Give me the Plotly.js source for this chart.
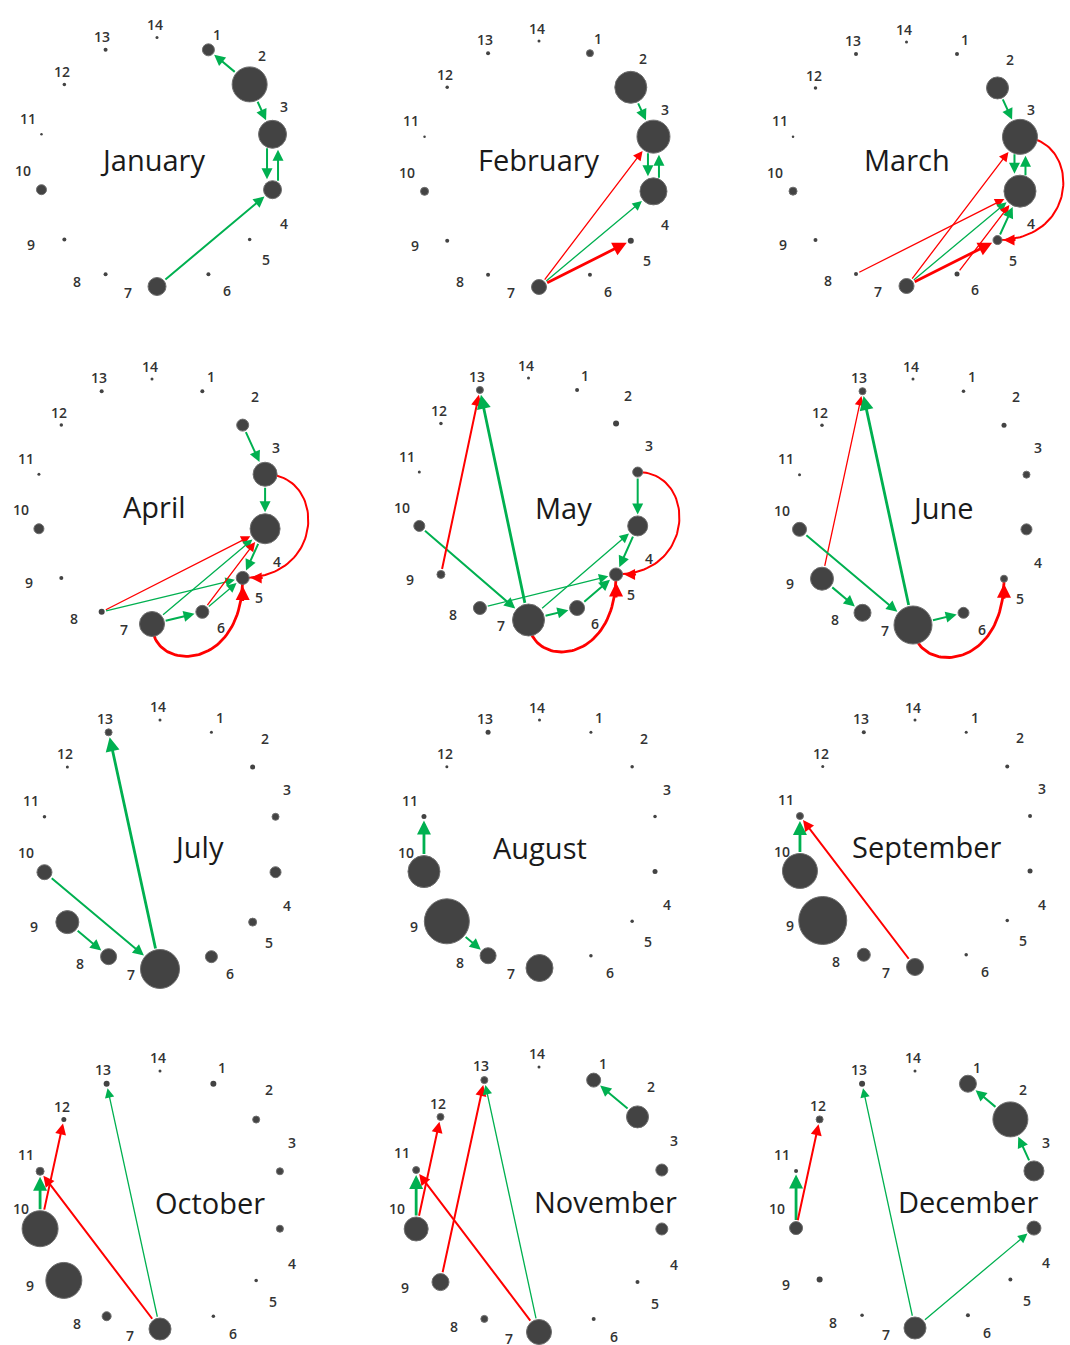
<!DOCTYPE html>
<html>
<head>
<meta charset="utf-8">
<script src="https://cdn.plot.ly/plotly-3.0.1.min.js"></script>
<style>
  html, body { margin: 0; padding: 0; background: #ffffff; }
  #chart { width: 1070px; height: 1345px; }
</style>
</head>
<body>
<div id="chart"></div>
<script>
// ---------- data ----------
const months = ['January', 'February', 'March', 'April', 'May', 'June',
                'July', 'August', 'September', 'October', 'November', 'December'];
const nodeIds = [1, 2, 3, 4, 5, 6, 7, 8, 9, 10, 11, 12, 13, 14];

// node weight per month (nodes 1..14), drawn as marker diameter
const janNodes = [12, 35, 28, 18, 3.5, 4, 18, 4, 4, 10, 2.5, 3.5, 4, 3];
const febNodes = [7, 32, 33, 27, 6, 4, 15, 4, 4, 8, 2.5, 3.5, 4, 3];
const marNodes = [4, 22, 35, 32, 9, 5, 15, 4, 4, 8, 2.5, 3.5, 4, 3];
const aprNodes = [4, 12, 24, 30, 13, 13, 25, 6, 4, 10, 3, 3.5, 4, 3];
const mayNodes = [4, 6, 10, 20, 13, 15, 32, 13, 8, 11, 3, 3.5, 7, 3];
const junNodes = [3.5, 5, 7, 11, 7, 11, 38, 17, 23, 14, 3, 3.5, 7, 3];
const julNodes = [3, 5, 7, 11, 8, 12, 39, 16, 23, 15, 3.5, 3, 7, 3];
const augNodes = [3, 3.5, 3.5, 5, 3.5, 3.5, 27, 16, 45, 32, 5, 3, 5, 3];
const sepNodes = [3, 4, 4, 5, 3.5, 3.5, 17, 13, 48, 35, 7, 3, 4, 3];
const octNodes = [6, 7, 7, 7, 3.5, 3.5, 22, 9, 36, 36, 8, 5, 6, 3];
const novNodes = [14, 22, 12, 12, 4, 4, 25, 7, 17, 24, 7, 7, 7, 3];
const decNodes = [17, 35, 20, 14, 4, 4, 22, 3.5, 6, 13, 4, 7, 6, 3];

// transitions per month: [from, to, sign (+1 gain / -1 loss), weight 1..3]
const janMoves = [[2, 1, 1, 2], [2, 3, 1, 2], [3, 4, 1, 2], [4, 3, 1, 2], [7, 4, 1, 2]];
const febMoves = [[2, 3, 1, 2], [3, 4, 1, 2], [4, 3, 1, 2], [7, 3, -1, 1], [7, 4, 1, 1], [7, 5, -1, 3]];
const marMoves = [[2, 3, 1, 2], [3, 4, 1, 2], [4, 3, 1, 2], [7, 3, -1, 1], [8, 4, -1, 1], [7, 4, 1, 1],
                  [6, 4, -1, 1], [7, 5, -1, 3], [5, 4, 1, 2], [3, 5, -1, 2]];
const aprMoves = [[2, 3, 1, 2], [3, 4, 1, 2], [3, 5, -1, 2], [8, 4, -1, 1], [8, 5, 1, 1], [7, 4, 1, 1],
                  [7, 6, 1, 2], [6, 4, -1, 1], [6, 5, 1, 1], [4, 5, 1, 2], [7, 5, -1, 3]];
const mayMoves = [[10, 7, 1, 2], [9, 13, -1, 2], [7, 13, 1, 3], [8, 5, 1, 1], [7, 4, 1, 1], [7, 6, 1, 2],
                  [6, 5, 1, 2], [3, 4, 1, 2], [4, 5, 1, 2], [3, 5, -1, 2], [7, 5, -1, 3]];
const junMoves = [[9, 13, -1, 1], [7, 13, 1, 3], [10, 7, 1, 2], [9, 8, 1, 2], [7, 6, 1, 2], [7, 5, -1, 3]];
const julMoves = [[7, 13, 1, 3], [10, 7, 1, 2], [9, 8, 1, 2]];
const augMoves = [[10, 11, 1, 3], [9, 8, 1, 2]];
const sepMoves = [[10, 11, 1, 3], [7, 11, -1, 2]];
const octMoves = [[10, 11, 1, 3], [10, 12, -1, 2], [7, 11, -1, 2], [7, 13, 1, 1]];
const novMoves = [[2, 1, 1, 2], [10, 11, 1, 3], [10, 12, -1, 2], [9, 13, -1, 2], [7, 11, -1, 2], [7, 13, 1, 1]];
const decMoves = [[2, 1, 1, 2], [3, 2, 1, 2], [10, 11, 1, 3], [10, 12, -1, 2], [7, 13, 1, 1], [7, 4, 1, 1]];

const monthNodes = [janNodes, febNodes, marNodes, aprNodes, mayNodes, junNodes,
                    julNodes, augNodes, sepNodes, octNodes, novNodes, decNodes];
const monthMoves = [janMoves, febMoves, marMoves, aprMoves, mayMoves, junMoves,
                    julMoves, augMoves, sepMoves, octMoves, novMoves, decMoves];

// ---------- layout settings ----------
const PAGE_W = 1070, PAGE_H = 1345;
// panel centre (px) and ring radii (px) for each month
const PANELS = [
  [157, 162, 118.5, 124.5], [539, 164, 117.4, 123], [906.5, 164, 116.4, 122],
  [152, 501.5, 116, 122.5], [528.5, 499, 112, 121], [913, 502, 116.4, 123],
  [160, 844.5, 118.5, 124.5], [539.5, 844, 118.5, 124], [915, 843.5, 118, 123.5],
  [160, 1200, 123, 129], [539, 1199.5, 126, 132.5], [915, 1199.5, 122, 128.5]
];
// month name offset from panel centre (px, screen)
const NAME_SHIFT = [[-5, -3], [0, -5], [0, -5], [2, 5], [35, 8], [29, 5],
                    [38, 2], [0, 3], [11, 3], [50, 2], [66, 2], [53, 2]];
// node label placement: [angle nudge (deg), radius] for nodes 1..14
const LABEL_POLAR = [[-0.6, 1.142], [5.4, 1.231], [9.6, 1.16], [-11.7, 1.18], [-2, 1.21],
                     [4.1, 1.19], [-13, 1.075], [-9.3, 1.17], [-6.6, 1.25], [-9.4, 1.13],
                     [-5.1, 1.145], [-3.8, 1.08], [-1.2, 1.11], [1, 1.105]];
// transitions drawn as bent arcs: month -> [from, to, axis pushed, control value]
const BENDS = {
  March: [[3, 5, 'x', 1.5]],
  April: [[3, 5, 'x', 1.5], [7, 5, 'y', -1.4]],
  May:   [[3, 5, 'x', 1.5], [7, 5, 'y', -1.4]],
  June:  [[7, 5, 'y', -1.4]]
};
const GAIN = '#00b050', LOSS = '#ff0000';
const LINE_W = {1: 1.3, 2: 2, 3: 2.8};
const HEAD_S = {1: 1.45, 2: 1.1, 3: 1.0};
const PAIR_GAP = 5.5;

function nodeAngle(id) { return (90 - id * 360 / 14) * Math.PI / 180; }
function nodePos(id) { const a = nodeAngle(id); return [Math.cos(a), Math.sin(a)]; }

const data = [];
const annotations = [];
const layout = {
  width: PAGE_W, height: PAGE_H, autosize: false,
  margin: {l: 0, r: 0, t: 0, b: 0, pad: 0},
  paper_bgcolor: '#ffffff', plot_bgcolor: 'rgba(0,0,0,0)',
  showlegend: false, hovermode: false,
  annotations: annotations
};

months.forEach((month, i) => {
  const k = i + 1;
  const sfx = k === 1 ? '' : String(k);
  const xr = 'x' + sfx, yr = 'y' + sfx;
  const [cx, cy, rx, ry] = PANELS[i];
  const sizes = monthNodes[i];
  const moves = monthMoves[i];
  const bends = BENDS[month] || [];

  // subplot frame
  const x0 = Math.max(0, cx - 185), x1 = Math.min(PAGE_W, cx + 185);
  const y0 = Math.max(0, cy - 172), y1 = Math.min(PAGE_H, cy + 172);
  layout['xaxis' + sfx] = {
    domain: [x0 / PAGE_W, x1 / PAGE_W], range: [(x0 - cx) / rx, (x1 - cx) / rx],
    visible: false, fixedrange: true, anchor: yr
  };
  layout['yaxis' + sfx] = {
    domain: [1 - y1 / PAGE_H, 1 - y0 / PAGE_H], range: [-(y1 - cy) / ry, (cy - y0) / ry],
    visible: false, fixedrange: true, anchor: xr
  };

  const toData = (px, py) => [px / rx, -py / ry];          // screen px vector -> data vector
  const toPx = (dx, dy) => [dx * rx, -dy * ry];            // data vector -> screen px vector
  const rad = id => sizes[id - 1] / 2;

  // transitions
  moves.forEach(([a, b, sign, w]) => {
    const color = sign > 0 ? GAIN : LOSS;
    const pa = nodePos(a), pb = nodePos(b);
    const bend = bends.find(c => c[0] === a && c[1] === b);
    if (bend) {
      const p1 = bend[2] === 'x' ? [bend[3], pa[1]] : [pa[0], bend[3]];
      const p2 = bend[2] === 'x' ? [bend[3], pb[1]] : [pb[0], bend[3]];
      const xs = [], ys = [];
      for (let s = 0; s <= 60; s++) {
        const t = s / 60, u = 1 - t;
        xs.push(u * u * u * pa[0] + 3 * u * u * t * p1[0] + 3 * u * t * t * p2[0] + t * t * t * pb[0]);
        ys.push(u * u * u * pa[1] + 3 * u * u * t * p1[1] + 3 * u * t * t * p2[1] + t * t * t * pb[1]);
      }
      data.push({
        type: 'scatter', mode: 'lines', x: xs, y: ys, xaxis: xr, yaxis: yr,
        line: {color: color, width: LINE_W[w]}, hoverinfo: 'skip'
      });
      // arrowhead along the end tangent
      const v = toPx(p2[0] - pb[0], p2[1] - pb[1]);
      const len = Math.hypot(v[0], v[1]);
      const reach = rad(b) + 5 * LINE_W[w] * HEAD_S[w] + 4;
      const d = toData(v[0] / len * reach, v[1] / len * reach);
      annotations.push({
        xref: xr, yref: yr, axref: xr, ayref: yr,
        x: pb[0], y: pb[1], ax: pb[0] + d[0], ay: pb[1] + d[1],
        text: '', showarrow: true, arrowhead: 2, arrowcolor: color,
        arrowwidth: LINE_W[w], arrowsize: HEAD_S[w], standoff: rad(b) + 1.5
      });
      return;
    }
    let off = [0, 0];
    const paired = moves.some(m => m[0] === b && m[1] === a);
    if (paired) {
      const v = toPx(pb[0] - pa[0], pb[1] - pa[1]);
      const len = Math.hypot(v[0], v[1]);
      off = toData(-v[1] / len * PAIR_GAP, v[0] / len * PAIR_GAP);
    }
    annotations.push({
      xref: xr, yref: yr, axref: xr, ayref: yr,
      x: pb[0] + off[0], y: pb[1] + off[1], ax: pa[0] + off[0], ay: pa[1] + off[1],
      text: '', showarrow: true, arrowhead: 2, arrowcolor: color,
      arrowwidth: LINE_W[w], arrowsize: HEAD_S[w],
      standoff: rad(b) + 1.5, startstandoff: Math.max(rad(a) - (paired ? 1.5 : 0), 0)
    });
  });

  // nodes
  data.push({
    type: 'scatter', mode: 'markers', xaxis: xr, yaxis: yr, cliponaxis: false,
    x: nodeIds.map(id => nodePos(id)[0]),
    y: nodeIds.map(id => nodePos(id)[1]),
    marker: {
      size: sizes, color: '#434343', opacity: 1,
      line: {color: '#6e6e6e', width: sizes.map(s => s > 6 ? 1 : 0)}
    },
    hoverinfo: 'skip'
  });

  // node labels
  nodeIds.forEach(id => {
    const [nudge, r] = LABEL_POLAR[id - 1];
    const a = nodeAngle(id) + nudge * Math.PI / 180;
    annotations.push({
      xref: xr, yref: yr, x: r * Math.cos(a), y: r * Math.sin(a),
      text: String(id), showarrow: false, xanchor: 'center', yanchor: 'middle',
      font: {family: 'Open Sans, sans-serif', size: 14, color: '#333333', weight: 600}
    });
  });

  // month name
  const [sx, sy] = NAME_SHIFT[i];
  annotations.push({
    xref: xr, yref: yr, x: sx / rx, y: -sy / ry,
    text: month, showarrow: false, xanchor: 'center', yanchor: 'middle',
    font: {family: 'Open Sans, sans-serif', size: 29, color: '#1a1a1a'}
  });
});

Plotly.newPlot('chart', data, layout, {staticPlot: true, displayModeBar: false});
</script>
</body>
</html>
